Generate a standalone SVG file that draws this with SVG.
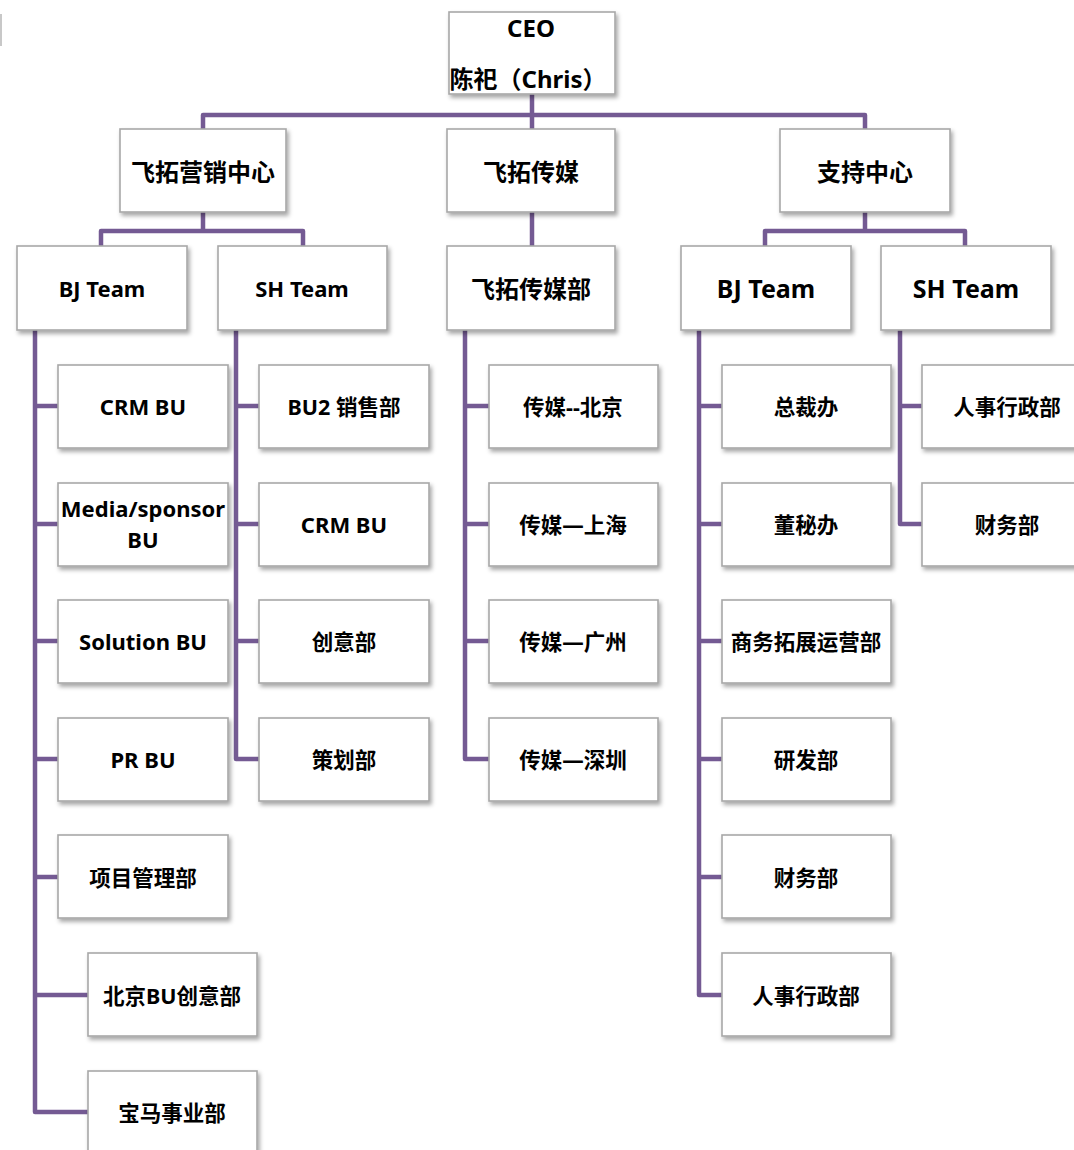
<svg xmlns="http://www.w3.org/2000/svg" width="1074" height="1150" viewBox="0 0 1074 1150">
<style>
.box{fill:#ffffff;stroke:#a8a8a8;stroke-width:1.6;filter:url(#sh)}
.t{font-family:"Noto Sans","Noto Sans CJK SC",sans-serif;font-weight:bold;fill:#000;text-anchor:middle;dominant-baseline:central}
.s21{font-size:21.5px}
.s22{font-size:22px}
.s24{font-size:24px}
.s25{font-size:25px}
.conn{fill:none;stroke:#745a93;stroke-width:4.5;stroke-linejoin:round;stroke-linecap:butt}
</style>
<defs>
<filter id="sh" x="-10%" y="-10%" width="125%" height="130%">
<feDropShadow dx="2" dy="3" stdDeviation="2.2" flood-color="#000" flood-opacity="0.35"/>
</filter>
</defs>
<rect width="1074" height="1150" fill="#ffffff"/>
<rect x="0" y="14" width="2" height="32" fill="#c8c8c8"/>
<g id="connectors">
<path class="conn" d="M532,94 V129 M203,129 V115 H865 V129"/>
<path class="conn" d="M203,212 V231 M101,246 V231 H303 V246"/>
<path class="conn" d="M532,212 V246"/>
<path class="conn" d="M865,212 V231 M765,246 V231 H965 V246"/>
<path class="conn" d="M35,330 V1112 H88 M35,406 H58 M35,524 H58 M35,641 H58 M35,759 H58 M35,877 H58 M35,995 H88"/>
<path class="conn" d="M236,330 V759 H259 M236,406 H259 M236,524 H259 M236,641 H259"/>
<path class="conn" d="M465,330 V759 H489 M465,406 H489 M465,524 H489 M465,641 H489"/>
<path class="conn" d="M699,330 V995 H722 M699,406 H722 M699,524 H722 M699,641 H722 M699,759 H722 M699,877 H722"/>
<path class="conn" d="M900,330 V524 H922 M900,406 H922"/>
</g>
<g id="ceo"><rect class="box" x="449" y="12" width="166" height="82"/><text class="t s24" x="531" y="27">CEO</text><text class="t s24" x="528" y="78">陈祀（Chris）</text></g>
<g id="mkt"><rect class="box" x="120" y="129" width="166" height="83"/><text class="t s24" x="203" y="171">飞拓营销中心</text></g>
<g id="media"><rect class="box" x="447" y="129" width="168" height="83"/><text class="t s24" x="531" y="171">飞拓传媒</text></g>
<g id="support"><rect class="box" x="780" y="129" width="170" height="83"/><text class="t s24" x="865" y="171">支持中心</text></g>
<g id="mkt-bj"><rect class="box" x="17" y="246" width="170" height="84"/><text class="t s22" x="102" y="288">BJ Team</text></g>
<g id="mkt-sh"><rect class="box" x="218" y="246" width="169" height="84"/><text class="t s22" x="302" y="288">SH Team</text></g>
<g id="media-dept"><rect class="box" x="447" y="246" width="168" height="84"/><text class="t s24" x="531" y="288">飞拓传媒部</text></g>
<g id="sup-bj"><rect class="box" x="681" y="246" width="170" height="84"/><text class="t s25" x="766" y="288">BJ Team</text></g>
<g id="sup-sh"><rect class="box" x="881" y="246" width="170" height="84"/><text class="t s25" x="966" y="288">SH Team</text></g>
<g id="bj-crm"><rect class="box" x="58" y="365" width="170" height="83"/><text class="t s22" x="143" y="406">CRM BU</text></g>
<g id="bj-media"><rect class="box" x="58" y="483" width="170" height="83"/><text class="t s22" x="143" y="508">Media/sponsor</text><text class="t s22" x="143" y="539">BU</text></g>
<g id="bj-solution"><rect class="box" x="58" y="600" width="170" height="83"/><text class="t s22" x="143" y="641">Solution BU</text></g>
<g id="bj-pr"><rect class="box" x="58" y="718" width="170" height="83"/><text class="t s22" x="143" y="759">PR BU</text></g>
<g id="bj-pm"><rect class="box" x="58" y="835" width="170" height="83"/><text class="t s21" x="143" y="877">项目管理部</text></g>
<g id="bj-creative"><rect class="box" x="88" y="953" width="169" height="83"/><text class="t s21" x="172" y="995">北京BU创意部</text></g>
<g id="bj-bmw"><rect class="box" x="88" y="1071" width="169" height="83"/><text class="t s21" x="172" y="1112">宝马事业部</text></g>
<g id="sh-bu2"><rect class="box" x="259" y="365" width="170" height="83"/><text class="t s21" x="344" y="406">BU2 销售部</text></g>
<g id="sh-crm"><rect class="box" x="259" y="483" width="170" height="83"/><text class="t s22" x="344" y="524">CRM BU</text></g>
<g id="sh-creative"><rect class="box" x="259" y="600" width="170" height="83"/><text class="t s21" x="344" y="641">创意部</text></g>
<g id="sh-plan"><rect class="box" x="259" y="718" width="170" height="83"/><text class="t s21" x="344" y="759">策划部</text></g>
<g id="m-bj"><rect class="box" x="489" y="365" width="169" height="83"/><text class="t s21" x="573" y="406">传媒--北京</text></g>
<g id="m-sh"><rect class="box" x="489" y="483" width="169" height="83"/><text class="t s21" x="573" y="524">传媒—上海</text></g>
<g id="m-gz"><rect class="box" x="489" y="600" width="169" height="83"/><text class="t s21" x="573" y="641">传媒—广州</text></g>
<g id="m-sz"><rect class="box" x="489" y="718" width="169" height="83"/><text class="t s21" x="573" y="759">传媒—深圳</text></g>
<g id="s-ceo-office"><rect class="box" x="722" y="365" width="169" height="83"/><text class="t s21" x="806" y="406">总裁办</text></g>
<g id="s-board"><rect class="box" x="722" y="483" width="169" height="83"/><text class="t s21" x="806" y="524">董秘办</text></g>
<g id="s-bd"><rect class="box" x="722" y="600" width="169" height="83"/><text class="t s21" x="806" y="641">商务拓展运营部</text></g>
<g id="s-rd"><rect class="box" x="722" y="718" width="169" height="83"/><text class="t s21" x="806" y="759">研发部</text></g>
<g id="s-fin"><rect class="box" x="722" y="835" width="169" height="83"/><text class="t s21" x="806" y="877">财务部</text></g>
<g id="s-hr"><rect class="box" x="722" y="953" width="169" height="83"/><text class="t s21" x="806" y="995">人事行政部</text></g>
<g id="s2-hr"><rect class="box" x="922" y="365" width="170" height="83"/><text class="t s21" x="1007" y="406">人事行政部</text></g>
<g id="s2-fin"><rect class="box" x="922" y="483" width="170" height="83"/><text class="t s21" x="1007" y="524">财务部</text></g>
</svg>
